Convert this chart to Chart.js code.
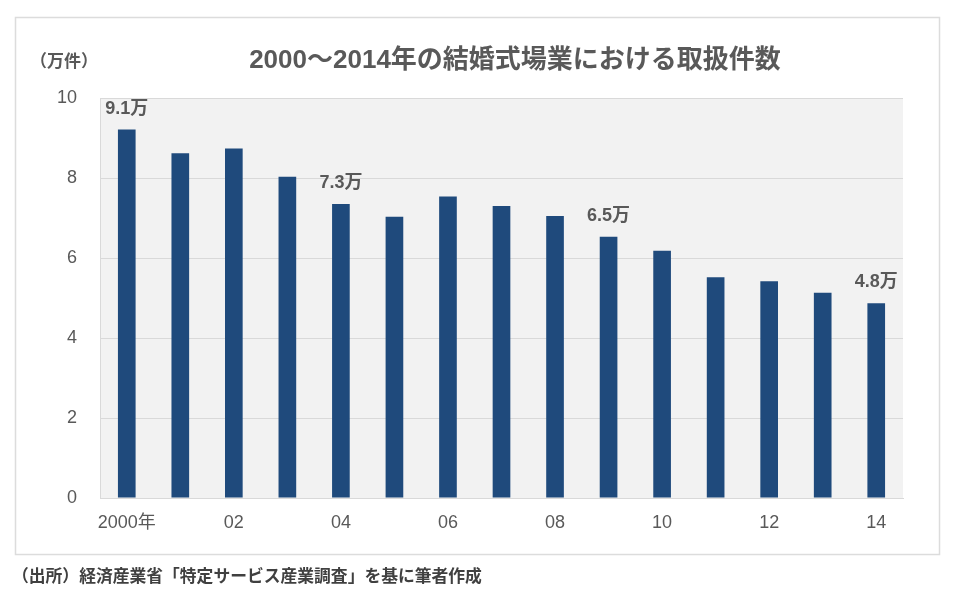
<!DOCTYPE html>
<html lang="ja">

<head>
  <meta charset="UTF-8">
  <title>結婚式場業の取扱件数</title>
  <style>
    body { margin: 0; background: #fff; }
    canvas { display: block; }
  </style>
</head>

<body>
  <canvas id="grafico" width="960" height="597"></canvas>

  <script src="https://cdn.jsdelivr.net/npm/chart.js"></script>
  <script>
    // dados
    var anos = ['2000', '2001', '2002', '2003', '2004', '2005', '2006', '2007', '2008', '2009', '2010', '2011', '2012', '2013', '2014'];
    var rotulosEixo = ['2000年', '', '02', '', '04', '', '06', '', '08', '', '10', '', '12', '', '14'];
    var valores = [9.21, 8.62, 8.74, 8.03, 7.35, 7.03, 7.54, 7.30, 7.05, 6.53, 6.18, 5.52, 5.42, 5.13, 4.87];
    var marcacoes = ['9.1万', '', '', '', '7.3万', '', '', '', '', '6.5万', '', '', '', '', '4.8万'];
    var ticksY = [0, 2, 4, 6, 8, 10];

    var titulo = '2000～2014年の結婚式場業における取扱件数';
    var unidade = '（万件）';
    var fonte = '（出所）経済産業省「特定サービス産業調査」を基に筆者作成';

    var fonteCJK = '"Liberation Sans", "Noto Sans CJK JP", sans-serif';
    var cinza = '#595959';

    // fundo da área do gráfico, moldura e textos fixos
    var pluginExtras = {
      id: 'extras',
      beforeDraw: function (chart) {
        var ctx = chart.ctx;
        var area = chart.chartArea;
        ctx.save();
        ctx.fillStyle = '#ffffff';
        ctx.fillRect(0, 0, chart.width, chart.height);
        ctx.fillStyle = '#f2f2f2';
        ctx.fillRect(area.left, area.top, area.right - area.left, area.bottom - area.top);
        ctx.strokeStyle = '#dcdcdc';
        ctx.lineWidth = 1.5;
        ctx.strokeRect(15.5, 17.5, 924, 537);
        ctx.restore();
      },
      afterDraw: function (chart) {
        var ctx = chart.ctx;
        ctx.save();
        ctx.fillStyle = cinza;
        ctx.textBaseline = 'middle';

        ctx.font = 'bold 26px ' + fonteCJK;
        ctx.textAlign = 'center';
        ctx.fillText(titulo, 515, 61);

        ctx.font = 'bold 17px ' + fonteCJK;
        ctx.textAlign = 'left';
        ctx.fillText(unidade, 30, 62);

        ctx.fillStyle = '#404040';
        ctx.font = 'bold 16.8px ' + fonteCJK;
        ctx.fillText(fonte, 12, 577);

        // rótulos de valor acima das barras
        var meta = chart.getDatasetMeta(0);
        ctx.fillStyle = cinza;
        ctx.font = 'bold 18px ' + fonteCJK;
        ctx.textAlign = 'center';
        for (var i = 0; i < meta.data.length; i++) {
          if (marcacoes[i] != '') {
            var barra = meta.data[i];
            ctx.fillText(marcacoes[i], barra.x, barra.y - 21);
          }
        }
        ctx.restore();
      }
    };

    var grafico = new Chart(document.getElementById('grafico'), {
      type: 'bar',
      data: {
        labels: anos,
        datasets: [{
          data: valores,
          backgroundColor: '#1f4a7c',
          borderWidth: 0,
          barPercentage: 0.33,
          categoryPercentage: 1.0
        }]
      },
      options: {
        responsive: false,
        animation: false,
        layout: {
          padding: { top: 98, right: 57, left: 0, bottom: 0 }
        },
        plugins: {
          legend: { display: false },
          title: { display: false },
          tooltip: { enabled: false }
        },
        scales: {
          x: {
            grid: { display: false },
            border: { display: true, color: '#d9d9d9' },
            ticks: {
              autoSkip: false,
              maxRotation: 0,
              padding: 6,
              color: cinza,
              font: { family: fonteCJK, size: 18 },
              callback: function (valor, indice) {
                return rotulosEixo[indice];
              }
            },
            afterFit: function (escala) {
              escala.height = 99;
            }
          },
          y: {
            min: 0,
            max: 10,
            afterBuildTicks: function (escala) {
              escala.ticks = ticksY.map(function (v) { return { value: v }; });
            },
            grid: { color: '#d9d9d9', drawTicks: false },
            border: { display: true, color: '#d9d9d9' },
            ticks: {
              padding: 23,
              color: cinza,
              font: { family: fonteCJK, size: 18 }
            },
            afterFit: function (escala) {
              escala.width = 100;
            }
          }
        }
      },
      plugins: [pluginExtras]
    });
  </script>
</body>

</html>
